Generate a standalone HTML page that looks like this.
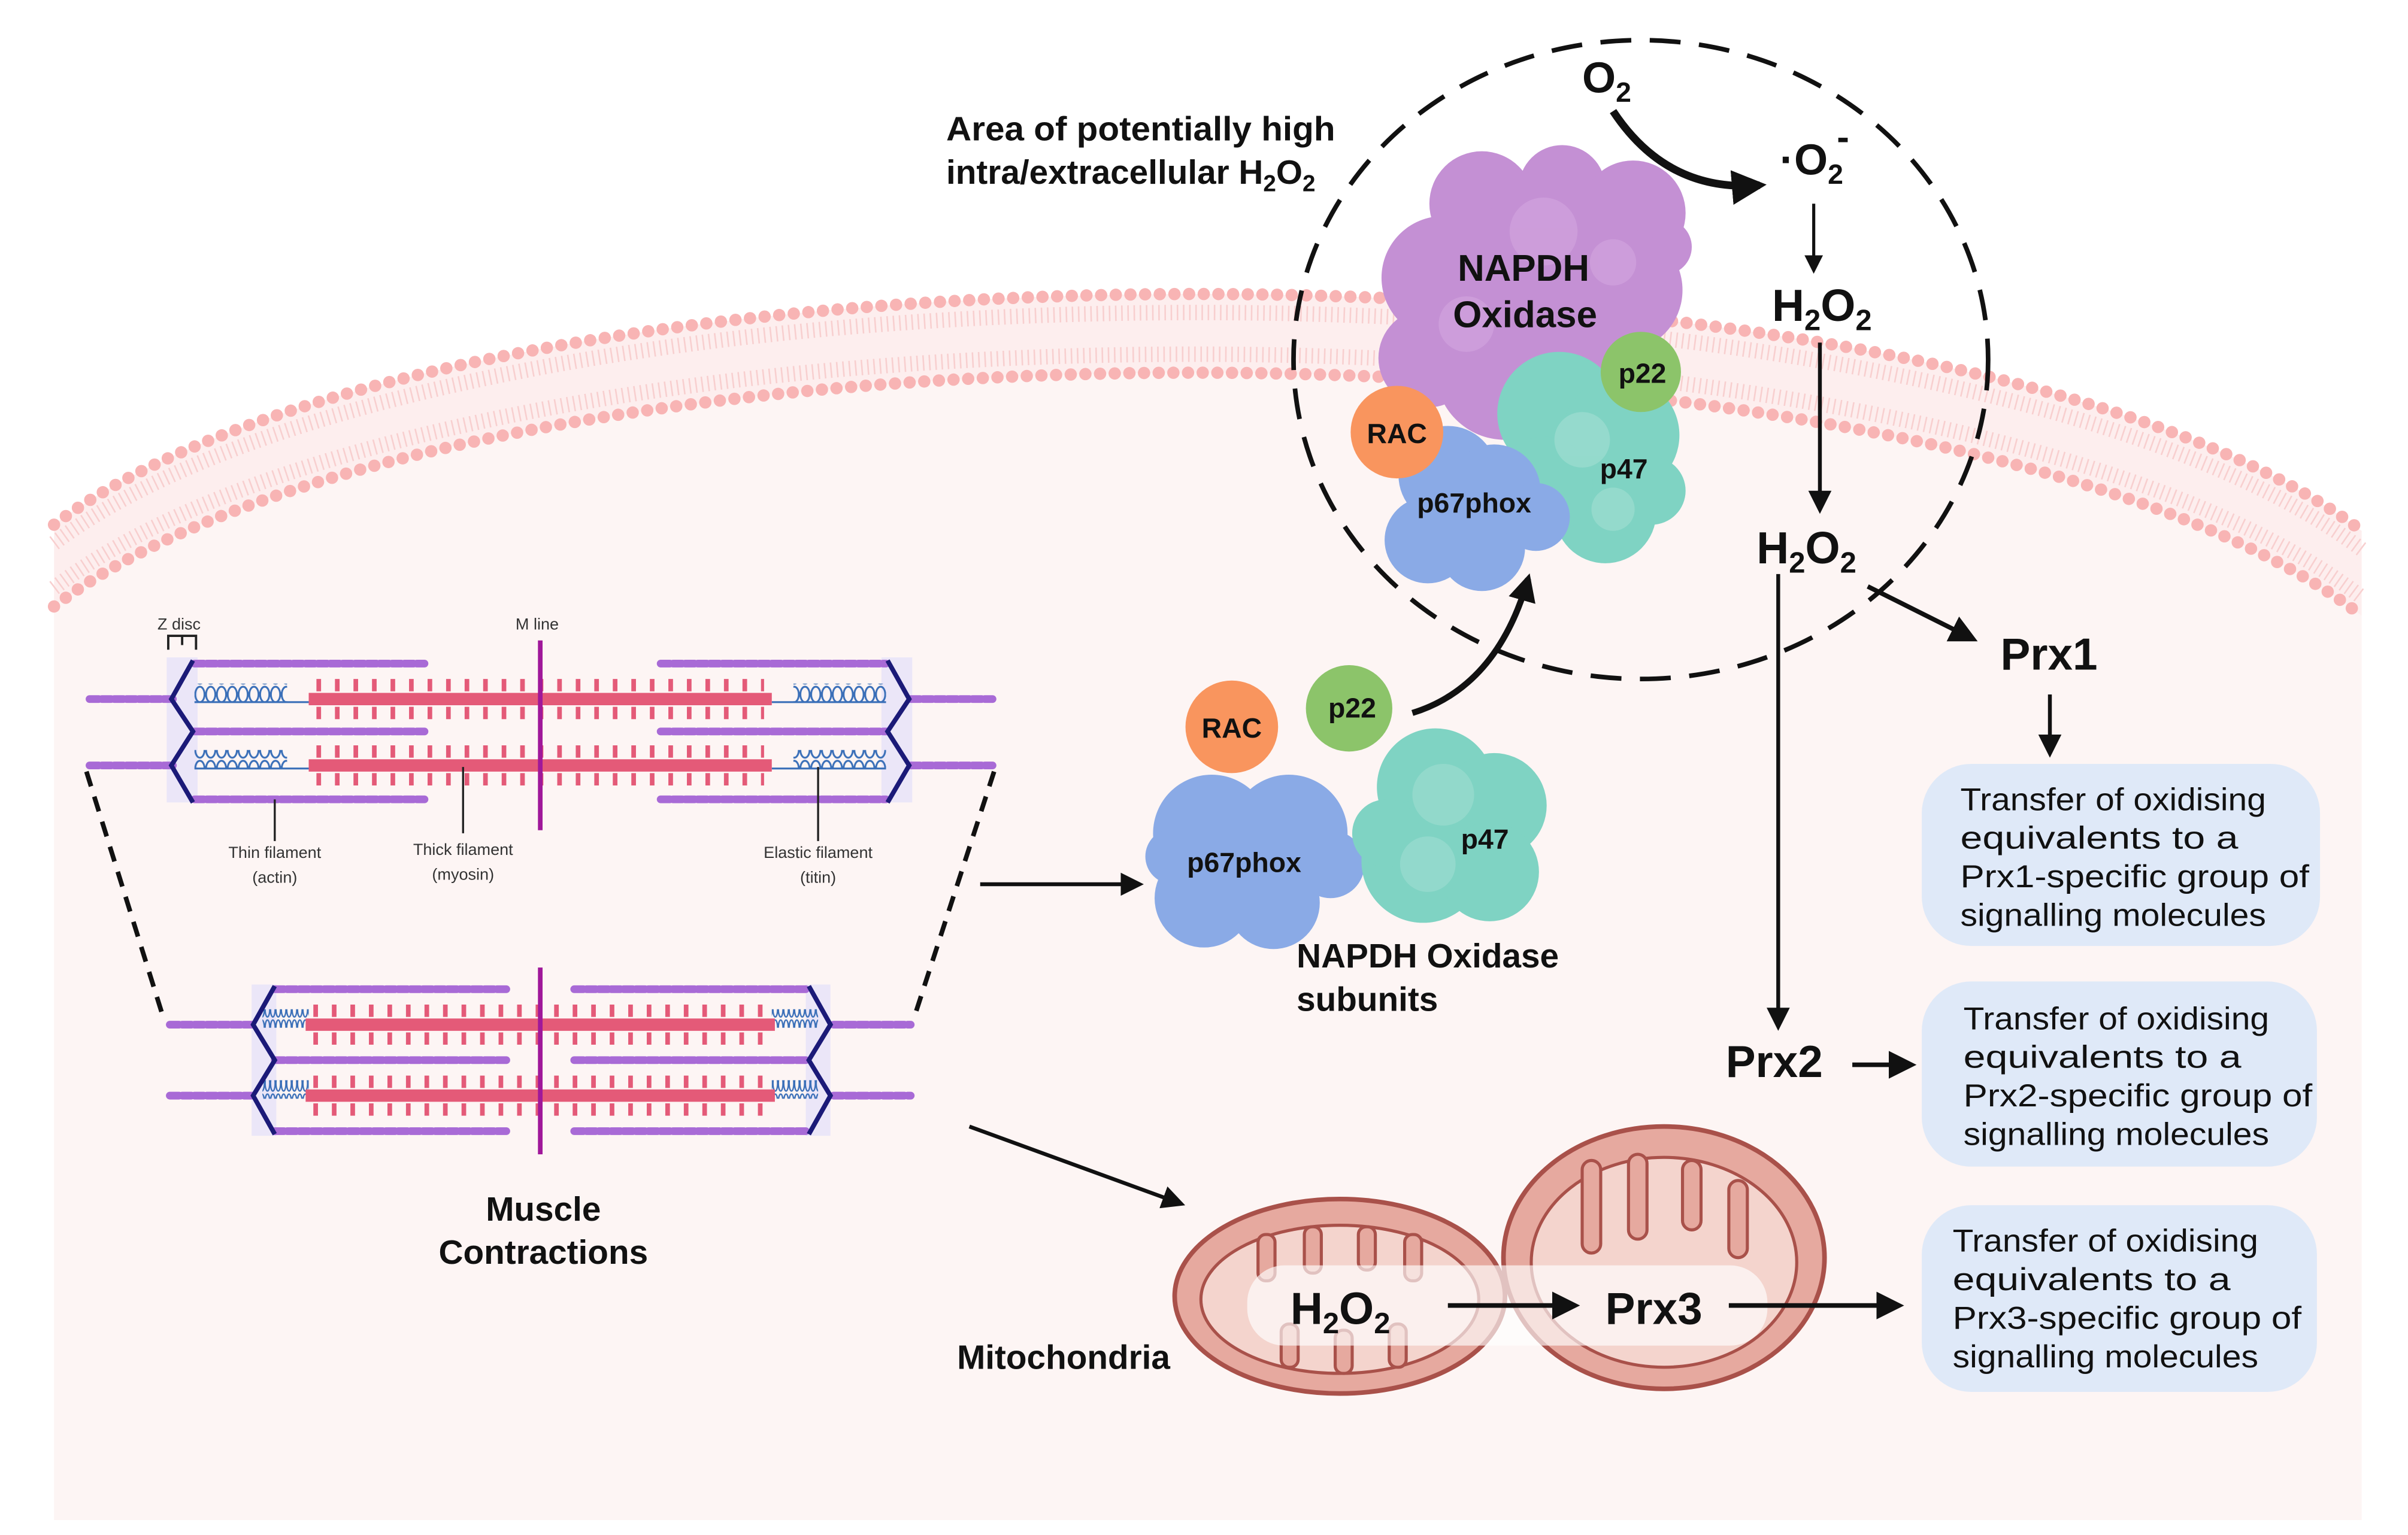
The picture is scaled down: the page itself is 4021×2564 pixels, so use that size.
<!DOCTYPE html>
<html><head><meta charset="utf-8"><style>
html,body{margin:0;padding:0;background:#fff;}
svg{display:block;}
text{font-family:"Liberation Sans",sans-serif;font-weight:bold;fill:#111;}
.sm{font-weight:normal;font-size:10.5px;fill:#333;}
.bx{font-weight:normal;font-size:20.5px;fill:#111;}
</style></head><body>
<svg width="4021" height="2564" viewBox="0 0 1560 994.7" xmlns="http://www.w3.org/2000/svg">
<defs>
<marker id="ah" viewBox="0 0 10 10" refX="8" refY="5" markerWidth="4.5" markerHeight="4.5" orient="auto"><path d="M0,0L10,5L0,10z" fill="#111"/></marker>
<marker id="ahs" viewBox="0 0 10 10" refX="8" refY="5" markerWidth="6" markerHeight="6" orient="auto"><path d="M0,0L10,5L0,10z" fill="#111"/></marker>
<pattern id="spr" width="7" height="12" patternUnits="userSpaceOnUse"><ellipse cx="3.5" cy="6" rx="3" ry="5" fill="none" stroke="#3a6fb8" stroke-width="1.2"/></pattern>
<pattern id="sprb" width="3.5" height="12" patternUnits="userSpaceOnUse"><ellipse cx="1.75" cy="6" rx="1.5" ry="5" fill="none" stroke="#3a6fb8" stroke-width="0.9"/></pattern>
</defs>
<rect width="1560" height="995" fill="#fff"/>
<path d="M35,393 C300,190 1260,190 1530,399 L1530,985 L35,985 Z" fill="#fdf5f4"/>
<path d="M35,340 C300,140 1260,140 1530,344 L1530,399 C1260,190 300,190 35,393 Z" fill="#fdeeee"/>
<path d="M35,352 C300,152 1260,152 1530,356" fill="none" stroke="#f8cfcf" stroke-width="10" stroke-dasharray="1 3"/>
<path d="M35,381 C300,178 1260,178 1530,387" fill="none" stroke="#f8cfcf" stroke-width="10" stroke-dasharray="1 3"/>
<path d="M35,340 C300,140 1260,140 1530,344" fill="none" stroke="#f8b4b4" stroke-width="8" stroke-linecap="round" stroke-dasharray="0 9.5"/>
<path d="M35,393 C300,190 1260,190 1530,399" fill="none" stroke="#f8b4b4" stroke-width="8" stroke-linecap="round" stroke-dasharray="0 9.5"/>

<ellipse cx="1063" cy="233" rx="225" ry="207" fill="none" stroke="#111" stroke-width="3" stroke-dasharray="20 12"/>

<g fill="#c490d4">
<circle cx="960" cy="132" r="34"/><circle cx="1012" cy="122" r="28"/><circle cx="1058" cy="138" r="34"/><circle cx="1078" cy="160" r="18"/>
<circle cx="935" cy="180" r="40"/><circle cx="992" cy="178" r="50"/><circle cx="1050" cy="188" r="40"/>
<circle cx="925" cy="232" r="32"/><circle cx="975" cy="240" r="45"/><circle cx="1030" cy="232" r="32"/>
</g>
<g fill="#d3a6df" opacity="0.6"><circle cx="1000" cy="150" r="22"/><circle cx="950" cy="210" r="18"/><circle cx="1045" cy="170" r="15"/></g>
<g fill="#7fd3c3">
<circle cx="1010" cy="268" r="40"/><circle cx="1050" cy="282" r="38"/><circle cx="1040" cy="332" r="33"/><circle cx="1000" cy="315" r="32"/><circle cx="1070" cy="318" r="22"/>
</g>
<g fill="#a3dfd3" opacity="0.6"><circle cx="1025" cy="285" r="18"/><circle cx="1045" cy="330" r="14"/></g>
<circle cx="1063" cy="241" r="26" fill="#8cc46a"/>
<g fill="#8aaae6">
<circle cx="938" cy="308" r="32"/><circle cx="968" cy="318" r="30"/><circle cx="925" cy="350" r="28"/><circle cx="960" cy="355" r="28"/><circle cx="995" cy="335" r="22"/>
</g>
<circle cx="905" cy="280" r="30" fill="#f9955e"/>
<text x="987" y="182" font-size="24" text-anchor="middle">NAPDH</text>
<text x="988" y="212" font-size="24" text-anchor="middle">Oxidase</text>
<text x="1064" y="248" font-size="18" text-anchor="middle">p22</text>
<text x="1052" y="310" font-size="18" text-anchor="middle">p47</text>
<text x="905" y="287" font-size="18" text-anchor="middle">RAC</text>
<text x="955" y="332" font-size="18" text-anchor="middle">p67phox</text>

<text x="1025" y="60" font-size="28">O<tspan font-size="18" dy="6">2</tspan></text>
<path d="M1045,72 Q1080,125 1140,120" fill="none" stroke="#111" stroke-width="5" marker-end="url(#ah)"/>
<text x="1153" y="113" font-size="28">·O<tspan font-size="18" dy="6">2</tspan></text>
<text x="1190" y="97" font-size="24">-</text>
<line x1="1175" y1="132" x2="1175" y2="175" stroke="#111" stroke-width="2" marker-end="url(#ahs)"/>
<text x="1148" y="208" font-size="29">H<tspan font-size="19" dy="6">2</tspan><tspan dy="-6">O</tspan><tspan font-size="19" dy="6">2</tspan></text>
<line x1="1179" y1="222" x2="1179" y2="330" stroke="#111" stroke-width="2.5" marker-end="url(#ahs)"/>
<text x="1138" y="365" font-size="29">H<tspan font-size="19" dy="6">2</tspan><tspan dy="-6">O</tspan><tspan font-size="19" dy="6">2</tspan></text>
<line x1="1210" y1="380" x2="1278" y2="414" stroke="#111" stroke-width="3" marker-end="url(#ahs)"/>
<text x="1296" y="434" font-size="29">Prx1</text>
<line x1="1328" y1="450" x2="1328" y2="488" stroke="#111" stroke-width="2.5" marker-end="url(#ahs)"/>
<line x1="1152" y1="372" x2="1152" y2="665" stroke="#111" stroke-width="2.5" marker-end="url(#ahs)"/>
<text x="1118" y="698" font-size="29">Prx2</text>
<line x1="1200" y1="690" x2="1238" y2="690" stroke="#111" stroke-width="3" marker-end="url(#ahs)"/>

<text x="613" y="91" font-size="22" textLength="252" lengthAdjust="spacingAndGlyphs">Area of potentially high</text>
<text x="613" y="119" font-size="22">intra/extracellular H<tspan font-size="15" dy="5">2</tspan><tspan dy="-5">O</tspan><tspan font-size="15" dy="5">2</tspan></text>

<rect x="1245" y="495" width="258" height="118" rx="32" fill="#dfe9f8"/>
<text class="bx" x="1270" y="525" textLength="198" lengthAdjust="spacingAndGlyphs">Transfer of oxidising</text>
<text class="bx" x="1270" y="550" textLength="180" lengthAdjust="spacingAndGlyphs">equivalents to a</text>
<text class="bx" x="1270" y="575" textLength="226" lengthAdjust="spacingAndGlyphs">Prx1-specific group of</text>
<text class="bx" x="1270" y="600" textLength="198" lengthAdjust="spacingAndGlyphs">signalling molecules</text>
<rect x="1245" y="636" width="256" height="120" rx="32" fill="#dfe9f8"/>
<text class="bx" x="1272" y="667" textLength="198" lengthAdjust="spacingAndGlyphs">Transfer of oxidising</text>
<text class="bx" x="1272" y="692" textLength="180" lengthAdjust="spacingAndGlyphs">equivalents to a</text>
<text class="bx" x="1272" y="717" textLength="226" lengthAdjust="spacingAndGlyphs">Prx2-specific group of</text>
<text class="bx" x="1272" y="742" textLength="198" lengthAdjust="spacingAndGlyphs">signalling molecules</text>
<rect x="1245" y="781" width="256" height="121" rx="32" fill="#dfe9f8"/>
<text class="bx" x="1265" y="811" textLength="198" lengthAdjust="spacingAndGlyphs">Transfer of oxidising</text>
<text class="bx" x="1265" y="836" textLength="180" lengthAdjust="spacingAndGlyphs">equivalents to a</text>
<text class="bx" x="1265" y="861" textLength="226" lengthAdjust="spacingAndGlyphs">Prx3-specific group of</text>
<text class="bx" x="1265" y="886" textLength="198" lengthAdjust="spacingAndGlyphs">signalling molecules</text>

<path d="M915,462 Q970,445 990,375" fill="none" stroke="#111" stroke-width="4" marker-end="url(#ah)"/>
<circle cx="798" cy="471" r="30" fill="#f9955e"/>
<circle cx="874" cy="459" r="28" fill="#8cc46a"/>
<g fill="#8aaae6">
<circle cx="785" cy="540" r="38"/><circle cx="835" cy="540" r="38"/><circle cx="780" cy="582" r="32"/><circle cx="825" cy="585" r="30"/><circle cx="862" cy="560" r="22"/><circle cx="760" cy="555" r="18"/>
</g>
<g fill="#7fd3c3">
<circle cx="930" cy="510" r="38"/><circle cx="968" cy="522" r="34"/><circle cx="922" cy="558" r="40"/><circle cx="965" cy="565" r="32"/><circle cx="898" cy="540" r="22"/>
</g>
<g fill="#a3dfd3" opacity="0.55"><circle cx="935" cy="515" r="20"/><circle cx="925" cy="560" r="18"/></g>
<text x="798" y="478" font-size="18" text-anchor="middle">RAC</text>
<text x="876" y="465" font-size="18" text-anchor="middle">p22</text>
<text x="806" y="565" font-size="18" text-anchor="middle">p67phox</text>
<text x="962" y="550" font-size="18" text-anchor="middle">p47</text>
<text x="840" y="627" font-size="22">NAPDH Oxidase</text>
<text x="840" y="655" font-size="22">subunits</text>

<line x1="635" y1="573" x2="738" y2="573" stroke="#111" stroke-width="2.5" marker-end="url(#ahs)"/>
<line x1="628" y1="730" x2="765" y2="780" stroke="#111" stroke-width="2.5" marker-end="url(#ahs)"/>

<ellipse cx="1078" cy="815" rx="104" ry="85" fill="#e6a99f" stroke="#a9514a" stroke-width="3"/>
<ellipse cx="1078" cy="818" rx="86" ry="68" fill="#f4d4cd" stroke="#a9514a" stroke-width="2"/>
<g stroke="#a9514a" stroke-width="2" fill="#e6a99f">
<rect x="1025" y="752" width="12" height="60" rx="6"/><rect x="1055" y="748" width="12" height="55" rx="6"/><rect x="1090" y="752" width="12" height="45" rx="6"/><rect x="1120" y="765" width="12" height="50" rx="6"/>
</g>
<ellipse cx="868" cy="840" rx="107" ry="63" fill="#e6a99f" stroke="#a9514a" stroke-width="3"/>
<ellipse cx="868" cy="842" rx="90" ry="48" fill="#f4d4cd" stroke="#a9514a" stroke-width="2"/>
<g stroke="#a9514a" stroke-width="2" fill="#e6a99f">
<rect x="815" y="800" width="11" height="30" rx="5"/><rect x="845" y="795" width="11" height="30" rx="5"/><rect x="880" y="795" width="11" height="28" rx="5"/><rect x="910" y="800" width="11" height="30" rx="5"/>
<rect x="830" y="858" width="11" height="28" rx="5"/><rect x="865" y="862" width="11" height="28" rx="5"/><rect x="900" y="858" width="11" height="28" rx="5"/>
</g>
<rect x="808" y="820" width="337" height="52" rx="24" fill="#fff" opacity="0.65"/>
<text x="836" y="858" font-size="29">H<tspan font-size="19" dy="6">2</tspan><tspan dy="-6">O</tspan><tspan font-size="19" dy="6">2</tspan></text>
<line x1="938" y1="846" x2="1020" y2="846" stroke="#111" stroke-width="3" marker-end="url(#ahs)"/>
<text x="1040" y="858" font-size="29">Prx3</text>
<line x1="1120" y1="846" x2="1230" y2="846" stroke="#111" stroke-width="3" marker-end="url(#ahs)"/>
<text x="620" y="887" font-size="22">Mitochondria</text>
<text x="352" y="791" font-size="22" text-anchor="middle">Muscle</text>
<text x="352" y="819" font-size="22" text-anchor="middle">Contractions</text>

<rect x="108" y="426" width="20" height="94" fill="#ebe6f8"/>
<rect x="571" y="426" width="20" height="94" fill="#ebe6f8"/>
<g stroke="#a86ad6" stroke-width="5" stroke-dasharray="6 2" stroke-linecap="round">
<line x1="126" y1="430" x2="275" y2="430"/><line x1="126" y1="474" x2="275" y2="474"/><line x1="126" y1="518" x2="275" y2="518"/>
<line x1="428" y1="430" x2="574" y2="430"/><line x1="428" y1="474" x2="574" y2="474"/><line x1="428" y1="518" x2="574" y2="518"/>
<line x1="58" y1="453" x2="112" y2="453"/><line x1="58" y1="496" x2="112" y2="496"/>
<line x1="590" y1="453" x2="643" y2="453"/><line x1="590" y1="496" x2="643" y2="496"/>
</g>
<rect x="126" y="443" width="60" height="12" fill="url(#spr)"/><rect x="126" y="486" width="60" height="12" fill="url(#spr)"/>
<rect x="514" y="443" width="60" height="12" fill="url(#spr)"/><rect x="514" y="486" width="60" height="12" fill="url(#spr)"/>
<g stroke="#3a6fb8" stroke-width="1.2"><line x1="126" y1="455" x2="200" y2="455"/><line x1="126" y1="498" x2="200" y2="498"/><line x1="500" y1="455" x2="574" y2="455"/><line x1="500" y1="498" x2="574" y2="498"/></g>
<g stroke="#e45a78">
<line x1="200" y1="453" x2="500" y2="453" stroke-width="8"/><line x1="200" y1="496" x2="500" y2="496" stroke-width="8"/>
<line x1="205" y1="444" x2="495" y2="444" stroke-width="8" stroke-dasharray="3 9"/><line x1="205" y1="462" x2="495" y2="462" stroke-width="8" stroke-dasharray="3 9"/>
<line x1="205" y1="487" x2="495" y2="487" stroke-width="8" stroke-dasharray="3 9"/><line x1="205" y1="505" x2="495" y2="505" stroke-width="8" stroke-dasharray="3 9"/>
</g>
<polyline points="125,428 111,453 125,474 111,496 125,520" fill="none" stroke="#1b1a78" stroke-width="3"/>
<polyline points="575,428 589,453 575,474 589,496 575,520" fill="none" stroke="#1b1a78" stroke-width="3"/>
<line x1="350" y1="415" x2="350" y2="538" stroke="#a0189a" stroke-width="3"/>
<path d="M109,421 V412 H127 V421 M118,412 V418" fill="none" stroke="#222" stroke-width="1.5"/>
<text class="sm" x="102" y="408">Z disc</text>
<text class="sm" x="334" y="408">M line</text>
<g stroke="#222" stroke-width="1.3"><line x1="178" y1="518" x2="178" y2="545"/><line x1="300" y1="497" x2="300" y2="540"/><line x1="530" y1="497" x2="530" y2="545"/></g>
<text class="sm" x="178" y="556" text-anchor="middle">Thin filament</text><text class="sm" x="178" y="572" text-anchor="middle">(actin)</text>
<text class="sm" x="300" y="554" text-anchor="middle">Thick filament</text><text class="sm" x="300" y="570" text-anchor="middle">(myosin)</text>
<text class="sm" x="530" y="556" text-anchor="middle">Elastic filament</text><text class="sm" x="530" y="572" text-anchor="middle">(titin)</text>

<line x1="56" y1="500" x2="106" y2="660" stroke="#111" stroke-width="3" stroke-dasharray="10 7"/>
<line x1="644" y1="500" x2="592" y2="660" stroke="#111" stroke-width="3" stroke-dasharray="10 7"/>

<rect x="163" y="638" width="16" height="98" fill="#ebe6f8"/>
<rect x="522" y="638" width="16" height="98" fill="#ebe6f8"/>
<g stroke="#a86ad6" stroke-width="5" stroke-dasharray="6 2" stroke-linecap="round">
<line x1="178" y1="641" x2="330" y2="641"/><line x1="178" y1="687" x2="330" y2="687"/><line x1="178" y1="733" x2="330" y2="733"/>
<line x1="372" y1="641" x2="524" y2="641"/><line x1="372" y1="687" x2="524" y2="687"/><line x1="372" y1="733" x2="524" y2="733"/>
<line x1="110" y1="664" x2="163" y2="664"/><line x1="110" y1="710" x2="163" y2="710"/>
<line x1="540" y1="664" x2="590" y2="664"/><line x1="540" y1="710" x2="590" y2="710"/>
</g>
<rect x="170" y="654" width="30" height="12" fill="url(#sprb)"/><rect x="170" y="700" width="30" height="12" fill="url(#sprb)"/>
<rect x="500" y="654" width="30" height="12" fill="url(#sprb)"/><rect x="500" y="700" width="30" height="12" fill="url(#sprb)"/>
<g stroke="#e45a78">
<line x1="198" y1="664" x2="502" y2="664" stroke-width="8"/><line x1="198" y1="710" x2="502" y2="710" stroke-width="8"/>
<line x1="203" y1="655" x2="497" y2="655" stroke-width="8" stroke-dasharray="3 9"/><line x1="203" y1="673" x2="497" y2="673" stroke-width="8" stroke-dasharray="3 9"/>
<line x1="203" y1="701" x2="497" y2="701" stroke-width="8" stroke-dasharray="3 9"/><line x1="203" y1="719" x2="497" y2="719" stroke-width="8" stroke-dasharray="3 9"/>
</g>
<polyline points="178,639 164,664 178,687 164,710 178,735" fill="none" stroke="#1b1a78" stroke-width="3"/>
<polyline points="524,639 538,664 524,687 538,710 524,735" fill="none" stroke="#1b1a78" stroke-width="3"/>
<line x1="350" y1="627" x2="350" y2="748" stroke="#a0189a" stroke-width="3"/>
</svg>
</body></html>
